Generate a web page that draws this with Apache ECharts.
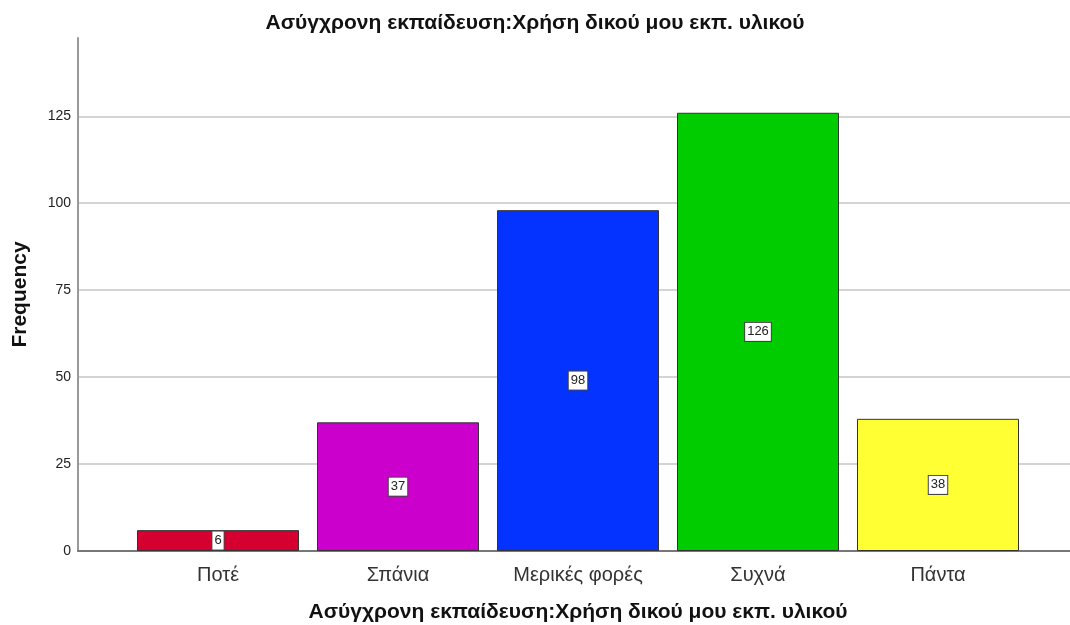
<!DOCTYPE html>
<html>
<head>
<meta charset="utf-8">
<script src="https://cdn.jsdelivr.net/npm/echarts@6/dist/echarts.min.js"></script>
<style>html,body{margin:0;padding:0;background:#fff}#c{width:1070px;height:625px}</style>
</head>
<body>
<div id="c"></div>
<script>
const chartTitle = 'Ασύγχρονη εκπαίδευση:Χρήση δικού μου εκπ. υλικού';
const categories = ['Ποτέ', 'Σπάνια', 'Μερικές φορές', 'Συχνά', 'Πάντα'];
const values = [6, 37, 98, 126, 38];
const barColors = ['#d5002f', '#cc00cc', '#0433ff', '#00cc00', '#ffff33'];
const yMax = 147.5;
const yInterval = 25;

const font = 'Liberation Sans, Arial, sans-serif';
const chart = echarts.init(document.getElementById('c'));
chart.setOption({
  animation: false,
  backgroundColor: '#fff',
  title: {
    text: chartTitle, left: 'center', top: 8,
    textStyle: { fontFamily: font, fontSize: 21, fontWeight: 'bold', color: '#111' }
  },
  grid: [
    { left: 78, right: 0, top: 38, bottom: 74, outerBoundsMode: 'none' },
    { left: 128, width: 900, top: 38, bottom: 74, outerBoundsMode: 'none' }
  ],
  xAxis: [
    { gridIndex: 0, type: 'value', min: 0, max: 1,
      axisLine: { show: true, lineStyle: { color: '#777', width: 2 } },
      axisTick: { show: false }, axisLabel: { show: false }, splitLine: { show: false } },
    { gridIndex: 1, type: 'category', data: categories,
      axisLine: { show: false }, axisTick: { show: false },
      axisLabel: { margin: 14, fontFamily: font, fontSize: 20, color: '#333' },
      name: chartTitle, nameLocation: 'middle', nameGap: 51,
      nameTextStyle: { fontFamily: font, fontSize: 21, fontWeight: 'bold', color: '#111' } }
  ],
  yAxis: [
    { gridIndex: 0, type: 'value', min: 0, max: yMax, interval: yInterval,
      axisLine: { show: true, lineStyle: { color: '#999', width: 2 } },
      axisTick: { show: false },
      axisLabel: { showMaxLabel: false, margin: 7, fontFamily: font, fontSize: 14, color: '#222' },
      splitLine: { show: true, showMinLine: false, showMaxLine: false, lineStyle: { color: '#d4d4d4', width: 2 } },
      name: 'Frequency', nameLocation: 'middle', nameGap: 47, nameRotate: 90,
      nameTextStyle: { fontFamily: font, fontSize: 21, fontWeight: 'bold', color: '#111' } },
    { gridIndex: 1, type: 'value', min: 0, max: yMax, interval: yInterval, show: false }
  ],
  series: [{
    type: 'bar', xAxisIndex: 1, yAxisIndex: 1,
    barWidth: 162,
    data: values.map((v, i) => ({ value: v, itemStyle: { color: barColors[i] } })),
    itemStyle: { borderColor: '#333', borderWidth: 1 },
    label: {
      show: true, position: 'inside',
      fontFamily: font, fontSize: 13, color: '#222',
      backgroundColor: '#fff', borderColor: '#444', borderWidth: 1,
      padding: [3, 2, 2, 2]
    }
  }]
});
</script>
</body>
</html>
